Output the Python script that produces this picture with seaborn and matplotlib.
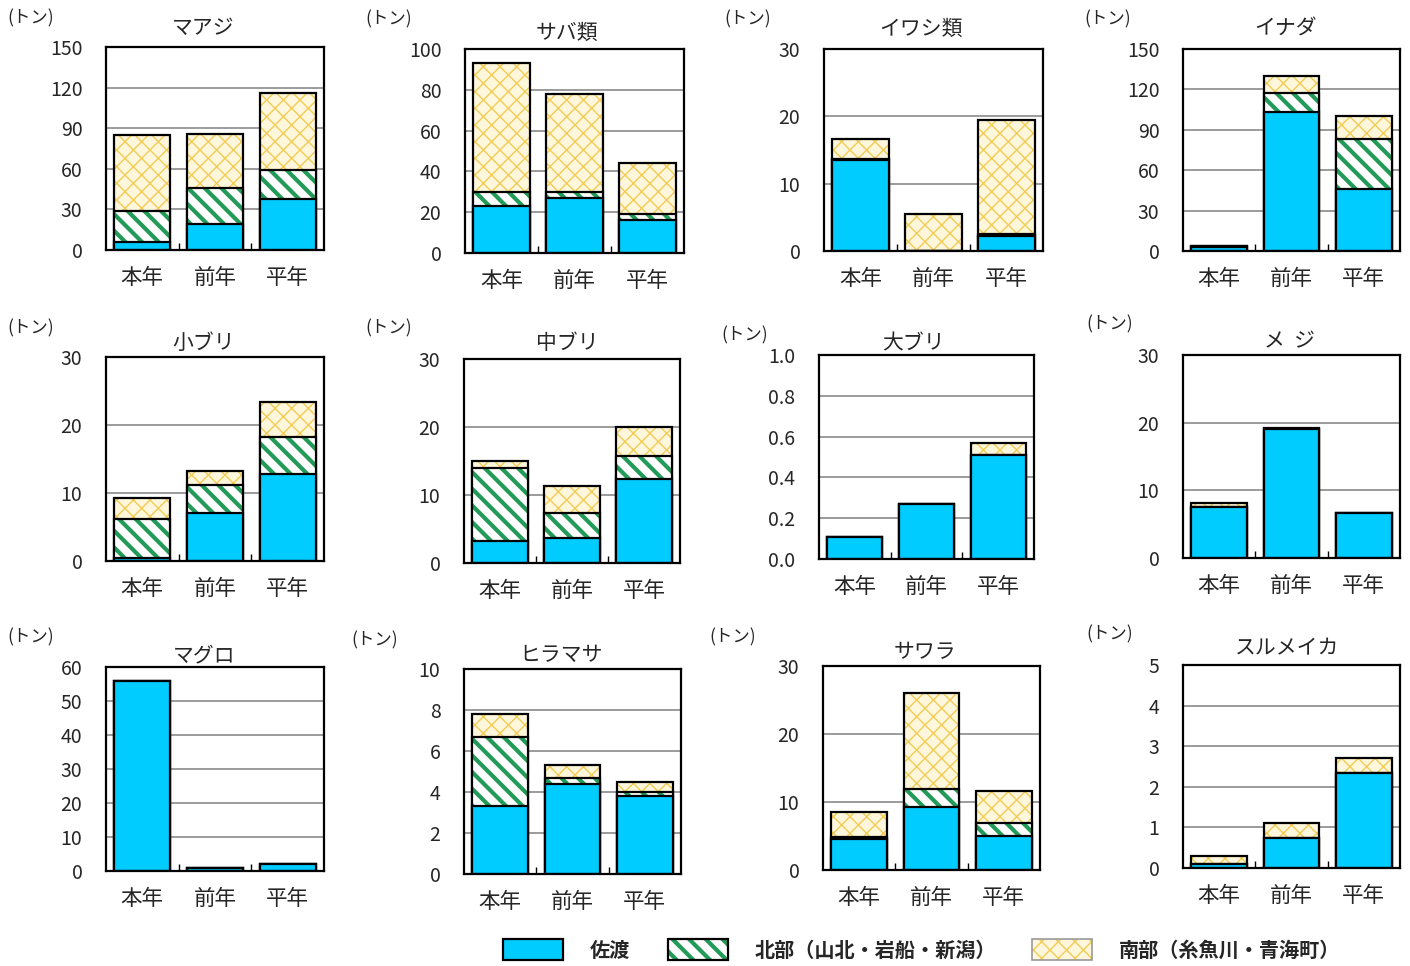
import numpy as np
import pandas as pd
import matplotlib
matplotlib.use("Agg")
import matplotlib.pyplot as plt
import seaborn as sns
from matplotlib.patches import Patch

# ---------------- data ----------------
categories = ["本年", "前年", "平年"]
species = ["マアジ", "サバ類", "イワシ類", "イナダ",
           "小ブリ", "中ブリ", "大ブリ", "メ  ジ",
           "マグロ", "ヒラマサ", "サワラ", "スルメイカ"]
sado = [[6, 19, 38], [23, 27, 16], [13.5, 0, 2.2], [3, 103, 46],
        [0.5, 7, 12.8], [3.2, 3.7, 12.3], [0.11, 0.27, 0.51], [7.5, 19, 6.6],
        [56, 1, 2], [3.3, 4.4, 3.8], [4.5, 9.3, 5.0], [0.1, 0.75, 2.35]]
hokubu = [[23, 27, 21], [7, 3, 3], [0.2, 0, 0.3], [0.5, 14, 37],
          [5.7, 4.2, 5.5], [10.7, 3.6, 3.5], [0, 0, 0], [0.1, 0.1, 0],
          [0, 0, 0], [3.4, 0.3, 0.2], [0.3, 2.6, 1.9], [0, 0, 0]]
nanbu = [[56, 40, 57], [63, 48, 25], [3, 5.5, 17], [0.5, 13, 17],
         [3, 2, 5.1], [1.1, 4, 4.2], [0, 0, 0.06], [0.5, 0.1, 0],
         [0, 0, 0], [1.1, 0.6, 0.5], [3.8, 14.1, 4.7], [0.2, 0.35, 0.35]]
y_max = [150, 100, 30, 150, 30, 30, 1.0, 30, 60, 10, 30, 5]
y_step = [30, 20, 10, 30, 10, 10, 0.2, 10, 10, 2, 10, 1]
y_decimals = [0, 0, 0, 0, 0, 0, 1, 0, 0, 0, 0, 0]
unit_label = "(トン)"
legend_labels = ["佐渡", "北部（山北・岩船・新潟）", "南部（糸魚川・青海町）"]

# ---------------- layout (pixels) ----------------
W, H = 1410, 966
axes_px = [(106, 47, 324, 250), (465, 49, 684, 253), (824, 49, 1043, 251), (1183, 49, 1400, 251),
           (106, 357, 324, 561), (464, 359, 680, 563), (819, 355, 1034, 559), (1183, 355, 1400, 558),
           (106, 667, 324, 871), (464, 669, 681, 874), (823, 666, 1040, 870), (1183, 665, 1400, 868)]
title_px = [(203, 28), (567, 33), (921, 29), (1286, 29),
            (204, 343), (567, 343), (913, 343), (1290, 341),
            (204, 655), (561, 655), (925, 652), (1287, 648)]
unit_px = [(31, 18), (389, 19), (748, 19), (1108, 19),
           (31, 328), (389, 328), (745, 335), (1110, 324),
           (31, 637), (375, 640), (733, 637), (1110, 634)]
legend_px = [503, 668, 1032]
legend_y = 950

BLUE = "#00CCFF"
GREEN = "#229A58"
GOLD = "#F2CC55"
CREAM = "#FFF7DC"
BW = 0.77
STRIPE = "\\\\"
CROSS = "xx"
STRIPE_LW = 3.0
CROSS_LW = 1.0

sns.set_theme(style="white")
plt.rcParams["font.family"] = ["Noto Sans CJK JP", "DejaVu Sans"]
plt.rcParams["axes.unicode_minus"] = False

fig = plt.figure(figsize=(W / 100, H / 100), dpi=100)


def set_hlw(patches, lw):
    for p in patches:
        if hasattr(p, "set_hatch_linewidth"):
            p.set_hatch_linewidth(lw)


def hatched_layer(ax, heights, face, hatch, hcolor, hlw):
    n = len(ax.patches)
    with plt.rc_context({"hatch.linewidth": hlw}):
        sns.barplot(x=categories, y=heights, ax=ax, width=BW, errorbar=None,
                    color=face, facecolor=face, hatch=hatch, edgecolor=hcolor, linewidth=0)
    set_hlw(ax.patches[n:], hlw)
    sns.barplot(x=categories, y=heights, ax=ax, width=BW, errorbar=None,
                color=face, facecolor="none", edgecolor="black", linewidth=1.6)


for i, name in enumerate(species):
    x0, y0, x1, y1 = axes_px[i]
    ax = fig.add_axes([x0 / W, 1 - y1 / H, (x1 - x0) / W, (y1 - y0) / H])
    s = np.array(sado[i], dtype=float)
    h = np.array(hokubu[i], dtype=float)
    nb = np.array(nanbu[i], dtype=float)
    total = s + h + nb
    mid = s + h

    hatched_layer(ax, list(total), CREAM, CROSS, GOLD, CROSS_LW)
    hatched_layer(ax, list(mid), "white", STRIPE, GREEN, STRIPE_LW)
    sns.barplot(x=categories, y=list(s), ax=ax, width=BW, errorbar=None,
                color=BLUE, facecolor=BLUE, edgecolor="black", linewidth=1.6)

    ax.set_xlim(-0.5, 2.5)
    ax.set_ylim(0, y_max[i])
    ticks = np.arange(0, y_max[i] + y_step[i] / 2, y_step[i])
    ax.set_yticks(ticks)
    ax.set_yticklabels([f"{t:.{y_decimals[i]}f}" for t in ticks], fontsize=14)
    ax.set_xticks([0, 1, 2])
    ax.set_xticklabels(categories, fontsize=15.5)
    ax.set_xticks([0.5, 1.5], minor=True)
    ax.tick_params(axis="y", length=0, pad=17)
    ax.tick_params(axis="x", which="major", length=0, pad=12)
    ax.tick_params(axis="x", which="minor", bottom=True, direction="in", length=5, width=1, color="black")
    ax.set_axisbelow(True)
    ax.yaxis.grid(True, color="#808080", linewidth=1.1)
    ax.xaxis.grid(False)
    for sp in ax.spines.values():
        sp.set_visible(True)
        sp.set_color("black")
        sp.set_linewidth(1.6)
    ax.set_xlabel("")
    ax.set_ylabel("")
    tx, ty = title_px[i]
    fig.text(tx / W, 1 - ty / H, name, fontsize=15, ha="center", va="center")
    ux, uy = unit_px[i]
    fig.text(ux / W, 1 - uy / H, unit_label, fontsize=12.5, ha="center", va="center")

# legend
def hpatch(face, hatch, hcolor, hlw):
    p = Patch(facecolor=face, hatch=hatch, edgecolor=hcolor, linewidth=0)
    if hasattr(p, "set_hatch_linewidth"):
        p.set_hatch_linewidth(hlw)
    return p

handles = [
    Patch(facecolor=BLUE, edgecolor="black", linewidth=1.6),
    (hpatch("white", STRIPE, GREEN, STRIPE_LW), Patch(facecolor="none", edgecolor="black", linewidth=1.6)),
    (hpatch(CREAM, CROSS, GOLD, CROSS_LW), Patch(facecolor="none", edgecolor="#999999", linewidth=1.2)),
]
legend_hlw = [1.0, STRIPE_LW, CROSS_LW]
for hd, lab, lx, hl in zip(handles, legend_labels, legend_px, legend_hlw):
    with plt.rc_context({"hatch.linewidth": hl}):
        leg = fig.legend(handles=[hd], labels=[lab], loc="center left",
                         bbox_to_anchor=(lx / W, 1 - legend_y / H), frameon=False,
                         handlelength=3.0, handleheight=1.2, handletextpad=1.3,
                         borderpad=0, borderaxespad=0,
                         prop={"weight": "bold", "size": 14.5})
    for p in leg.findobj(Patch):
        if p.get_hatch() and hasattr(p, "set_hatch_linewidth"):
            p.set_hatch_linewidth(hl)

fig.savefig("out.png", dpi=100)
